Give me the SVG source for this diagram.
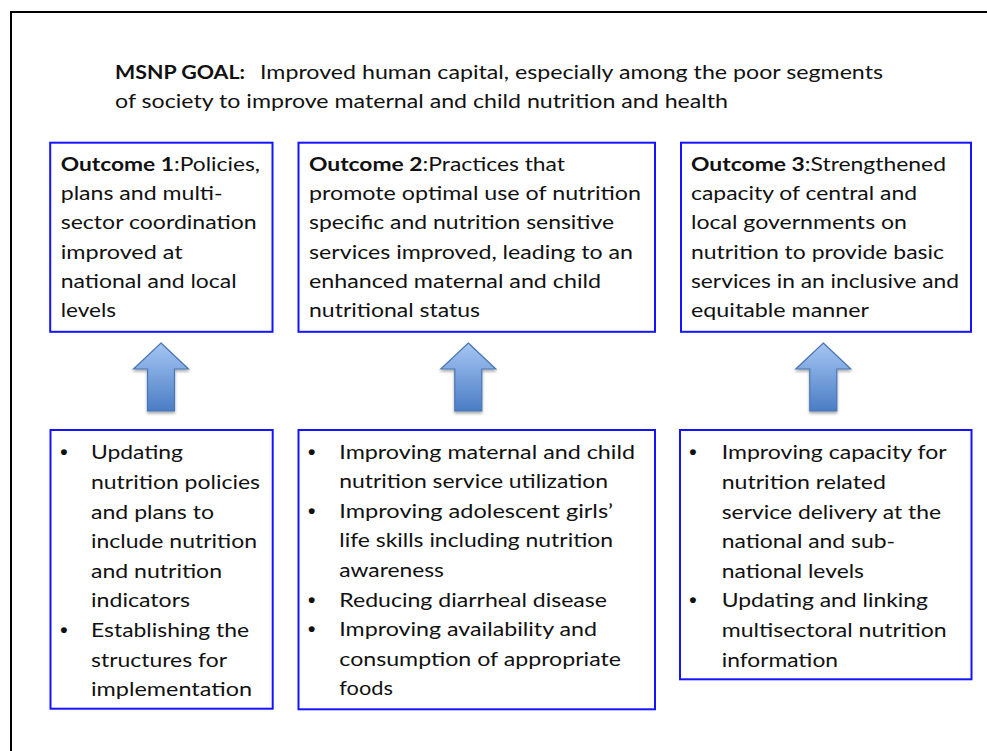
<svg xmlns="http://www.w3.org/2000/svg" width="987" height="751" viewBox="0 0 987 751">
<style>
.t{font-family:Lato,"Liberation Sans",sans-serif;font-size:19.5px;fill:#111}
.b{font-weight:bold}
.box{fill:#fff;stroke:#1414ff;stroke-width:2}
.bul{font-family:"Liberation Sans",sans-serif;font-size:21px;font-weight:bold;fill:#111;text-anchor:middle}
.arrow{fill:url(#ag);stroke:#4a76b4;stroke-width:1.2;filter:url(#sh)}
</style>
<defs>
<linearGradient id="ag" x1="0" y1="0" x2="0" y2="1">
<stop offset="0" stop-color="#a6c6f4"/>
<stop offset="1" stop-color="#4a7dc4"/>
</linearGradient>
<filter id="sh" x="-30%" y="-20%" width="160%" height="150%">
<feGaussianBlur in="SourceAlpha" stdDeviation="1.5"/>
<feOffset dx="0" dy="2" result="o"/>
<feComponentTransfer><feFuncA type="linear" slope="0.35"/></feComponentTransfer>
<feMerge><feMergeNode/><feMergeNode in="SourceGraphic"/></feMerge>
</filter>
<path id="up" d="M0,343 L27.5,369 L13.5,369 L13.5,411 L-13.5,411 L-13.5,369 L-27.5,369 Z"/>
</defs>
<rect x="0" y="0" width="987" height="751" fill="#fff"/>
<rect x="11" y="12" width="990" height="760" fill="none" stroke="#000" stroke-width="2"/>

<g id="goal">
<text class="t b" x="115" y="78.5" textLength="130" lengthAdjust="spacingAndGlyphs">MSNP GOAL:</text>
<text class="t" x="260" y="78.5" textLength="623" lengthAdjust="spacingAndGlyphs">Improved human capital, especially among the poor segments</text>
<text class="t" x="115" y="107.5" textLength="613" lengthAdjust="spacingAndGlyphs">of society to improve maternal and child nutrition and health</text>
</g>

<g id="outcome1">
<rect class="box" x="50.2" y="142.7" width="222.3" height="189.1"/>
<text class="t" x="60.7" y="170.7" textLength="199.3" lengthAdjust="spacingAndGlyphs"><tspan class="b">Outcome 1</tspan>:Policies,</text>
<text class="t" x="60.7" y="200" textLength="162" lengthAdjust="spacingAndGlyphs">plans and multi-</text>
<text class="t" x="60.7" y="229.3" textLength="196" lengthAdjust="spacingAndGlyphs">sector coordination</text>
<text class="t" x="60.7" y="258.6" textLength="122" lengthAdjust="spacingAndGlyphs">improved at</text>
<text class="t" x="60.7" y="287.9" textLength="176" lengthAdjust="spacingAndGlyphs">national and local</text>
<text class="t" x="60.7" y="317.2" textLength="55.3" lengthAdjust="spacingAndGlyphs">levels</text>
</g>

<g id="outcome2">
<rect class="box" x="298.5" y="142.7" width="356.5" height="189.1"/>
<text class="t" x="309" y="170.7" textLength="256" lengthAdjust="spacingAndGlyphs"><tspan class="b">Outcome 2</tspan>:Practices that</text>
<text class="t" x="309" y="200" textLength="332" lengthAdjust="spacingAndGlyphs">promote optimal use of nutrition</text>
<text class="t" x="309" y="229.3" textLength="305" lengthAdjust="spacingAndGlyphs">specific and nutrition sensitive</text>
<text class="t" x="309" y="258.6" textLength="324" lengthAdjust="spacingAndGlyphs">services improved, leading to an</text>
<text class="t" x="309" y="287.9" textLength="292" lengthAdjust="spacingAndGlyphs">enhanced maternal and child</text>
<text class="t" x="309" y="317.2" textLength="171" lengthAdjust="spacingAndGlyphs">nutritional status</text>
</g>

<g id="outcome3">
<rect class="box" x="681" y="142.7" width="290" height="189.1"/>
<text class="t" x="691" y="170.7" textLength="255" lengthAdjust="spacingAndGlyphs"><tspan class="b">Outcome 3</tspan>:Strengthened</text>
<text class="t" x="691" y="200" textLength="226" lengthAdjust="spacingAndGlyphs">capacity of central and</text>
<text class="t" x="691" y="229.3" textLength="216" lengthAdjust="spacingAndGlyphs">local governments on</text>
<text class="t" x="691" y="258.6" textLength="253" lengthAdjust="spacingAndGlyphs">nutrition to provide basic</text>
<text class="t" x="691" y="287.9" textLength="268" lengthAdjust="spacingAndGlyphs">services in an inclusive and</text>
<text class="t" x="691" y="317.2" textLength="178" lengthAdjust="spacingAndGlyphs">equitable manner</text>
</g>

<g id="activities1">
<rect class="box" x="50.5" y="430" width="222.2" height="278.7"/>
<text class="bul" x="64" y="459">•</text>
<text class="bul" x="64" y="636.5">•</text>
<text class="t" x="91" y="459.3" textLength="92" lengthAdjust="spacingAndGlyphs">Updating</text>
<text class="t" x="91" y="488.9" textLength="169" lengthAdjust="spacingAndGlyphs">nutrition policies</text>
<text class="t" x="91" y="518.5" textLength="123" lengthAdjust="spacingAndGlyphs">and plans to</text>
<text class="t" x="91" y="548.1" textLength="166" lengthAdjust="spacingAndGlyphs">include nutrition</text>
<text class="t" x="91" y="577.7" textLength="131" lengthAdjust="spacingAndGlyphs">and nutrition</text>
<text class="t" x="91" y="607.3" textLength="99" lengthAdjust="spacingAndGlyphs">indicators</text>
<text class="t" x="91" y="636.9" textLength="158" lengthAdjust="spacingAndGlyphs">Establishing the</text>
<text class="t" x="91" y="666.5" textLength="136" lengthAdjust="spacingAndGlyphs">structures for</text>
<text class="t" x="91" y="696.1" textLength="161" lengthAdjust="spacingAndGlyphs">implementation</text>
</g>

<g id="activities2">
<rect class="box" x="298.5" y="430" width="356.5" height="279.3"/>
<text class="bul" x="311.7" y="458.5">•</text>
<text class="bul" x="311.7" y="517.7">•</text>
<text class="bul" x="311.7" y="606.5">•</text>
<text class="bul" x="311.7" y="636">•</text>
<text class="t" x="339.3" y="458.6" textLength="295.7" lengthAdjust="spacingAndGlyphs">Improving maternal and child</text>
<text class="t" x="339.3" y="488.2" textLength="268.7" lengthAdjust="spacingAndGlyphs">nutrition service utilization</text>
<text class="t" x="339.3" y="517.8" textLength="273.7" lengthAdjust="spacingAndGlyphs">Improving adolescent girls’</text>
<text class="t" x="339.3" y="547.4" textLength="273.7" lengthAdjust="spacingAndGlyphs">life skills including nutrition</text>
<text class="t" x="339.3" y="577" textLength="104.7" lengthAdjust="spacingAndGlyphs">awareness</text>
<text class="t" x="339.3" y="606.6" textLength="267.7" lengthAdjust="spacingAndGlyphs">Reducing diarrheal disease</text>
<text class="t" x="339.3" y="636.2" textLength="257.7" lengthAdjust="spacingAndGlyphs">Improving availability and</text>
<text class="t" x="339.3" y="665.8" textLength="281.7" lengthAdjust="spacingAndGlyphs">consumption of appropriate</text>
<text class="t" x="339.3" y="695.4" textLength="53.7" lengthAdjust="spacingAndGlyphs">foods</text>
</g>

<g id="activities3">
<rect class="box" x="680" y="430" width="291.5" height="249.3"/>
<text class="bul" x="693" y="459">•</text>
<text class="bul" x="693" y="607">•</text>
<text class="t" x="721.7" y="459.3" textLength="225" lengthAdjust="spacingAndGlyphs">Improving capacity for</text>
<text class="t" x="721.7" y="488.9" textLength="164.3" lengthAdjust="spacingAndGlyphs">nutrition related</text>
<text class="t" x="721.7" y="518.5" textLength="219.3" lengthAdjust="spacingAndGlyphs">service delivery at the</text>
<text class="t" x="721.7" y="548.1" textLength="173.3" lengthAdjust="spacingAndGlyphs">national and sub-</text>
<text class="t" x="721.7" y="577.7" textLength="142.3" lengthAdjust="spacingAndGlyphs">national levels</text>
<text class="t" x="721.7" y="607.3" textLength="206.3" lengthAdjust="spacingAndGlyphs">Updating and linking</text>
<text class="t" x="721.7" y="636.9" textLength="225" lengthAdjust="spacingAndGlyphs">multisectoral nutrition</text>
<text class="t" x="721.7" y="666.5" textLength="116.3" lengthAdjust="spacingAndGlyphs">information</text>
</g>

<g id="connectors">
<use href="#up" class="arrow" transform="translate(161,0)"/>
<use href="#up" class="arrow" transform="translate(468.3,0)"/>
<use href="#up" class="arrow" transform="translate(823.3,0)"/>
</g>
</svg>
